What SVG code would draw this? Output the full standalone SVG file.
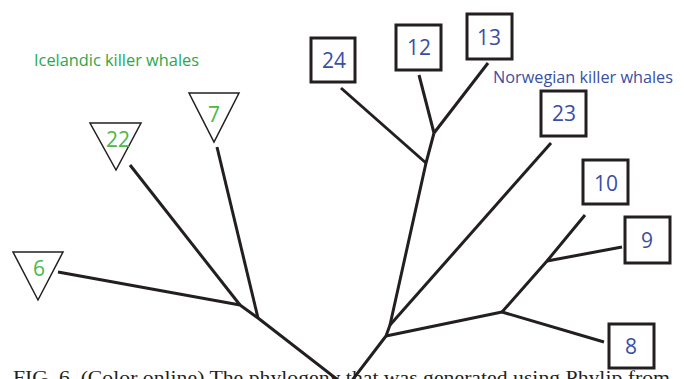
<svg xmlns="http://www.w3.org/2000/svg" width="684" height="379" viewBox="0 0 684 379">
<style>
.br{stroke:#231f20;stroke-width:3;fill:none;stroke-linecap:butt;stroke-linejoin:round}
.box{fill:#fff;stroke:#231f20;stroke-width:3}
.tri{fill:#fff;stroke:#231f20;stroke-width:1.5;stroke-linejoin:miter}
.bl{fill:#3a4fa3;font-family:"Open Sans","Liberation Sans",sans-serif;font-size:21px;text-anchor:middle}
.gr{fill:#4cb848;font-family:"Open Sans","Liberation Sans",sans-serif;font-size:21px;text-anchor:middle}
.grp{fill:#2aa84a;font-family:"Open Sans","Liberation Sans",sans-serif;font-size:17px}
.blp{fill:#3a4fa3;font-family:"Open Sans","Liberation Sans",sans-serif;font-size:17px}
.cap{fill:#231f20;font-family:"Liberation Serif","Times New Roman",serif;font-size:18px}
</style>
<rect width="684" height="379" fill="#fff"/>
<text class="cap" x="13" y="384" textLength="657" lengthAdjust="spacingAndGlyphs">FIG. 6. (Color online) The phylogeny that was generated using Phylip from</text>
<g id="connectors">
<polyline class="br" points="58,272 240,305 258,318 347,387"/>
<line class="br" x1="130" y1="165" x2="240" y2="305"/>
<line class="br" x1="217" y1="147" x2="258" y2="318"/>
<polyline class="br" points="347,387 386,336 390,325 426,163 434,133"/>
<line class="br" x1="341" y1="88" x2="426" y2="163"/>
<line class="br" x1="419" y1="75" x2="434" y2="133"/>
<line class="br" x1="488" y1="63" x2="434" y2="133"/>
<line class="br" x1="551" y1="143" x2="390" y2="325"/>
<polyline class="br" points="386,336 502,312 604,342"/>
<polyline class="br" points="502,312 547,261 585,215"/>
<line class="br" x1="547" y1="261" x2="622" y2="247"/>
</g>
<g id="n22"><polygon class="tri" points="90,123 141,123 116,170"/><text class="gr" x="118" y="147">22</text></g>
<g id="n7"><polygon class="tri" points="189,93 239,93 214,142"/><text class="gr" x="214" y="122">7</text></g>
<g id="n6"><polygon class="tri" points="13,252 63,252 38,300"/><text class="gr" x="39" y="276">6</text></g>
<g id="n24"><rect class="box" x="311" y="38" width="44" height="44"/><text class="bl" x="334" y="68">24</text></g>
<g id="n12"><rect class="box" x="396" y="25" width="45" height="45"/><text class="bl" x="419" y="55">12</text></g>
<g id="n13"><rect class="box" x="467" y="14" width="45" height="45"/><text class="bl" x="489" y="45">13</text></g>
<g id="n23"><rect class="box" x="541" y="91" width="45" height="45"/><text class="bl" x="564" y="121">23</text></g>
<g id="n10"><rect class="box" x="583" y="160" width="45" height="44"/><text class="bl" x="606" y="191">10</text></g>
<g id="n9"><rect class="box" x="625" y="217" width="45" height="46"/><text class="bl" x="647" y="248">9</text></g>
<g id="n8"><rect class="box" x="609" y="324" width="45" height="44"/><text class="bl" x="631" y="354">8</text></g>
<g id="labels">
<text class="grp" x="34" y="66" textLength="165" lengthAdjust="spacingAndGlyphs">Icelandic killer whales</text>
<text class="blp" x="493" y="82.5" textLength="180" lengthAdjust="spacingAndGlyphs">Norwegian killer whales</text>
</g>
</svg>
